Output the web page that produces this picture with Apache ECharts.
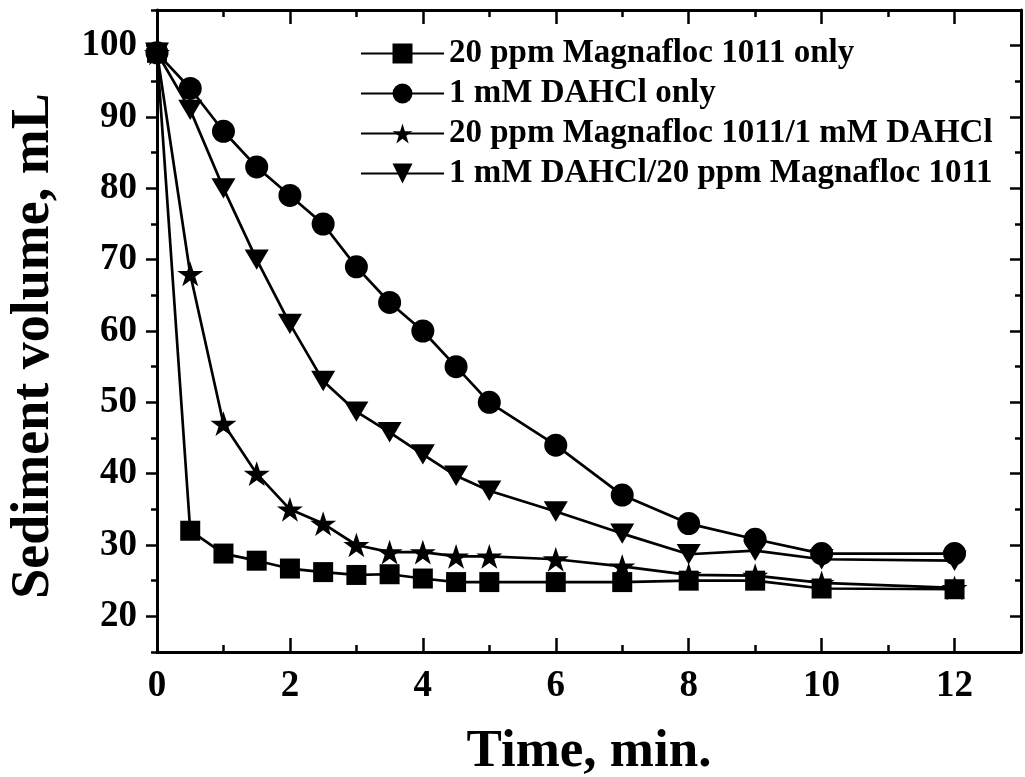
<!DOCTYPE html>
<html>
<head>
<meta charset="utf-8">
<script src="https://cdn.jsdelivr.net/npm/echarts@6/dist/echarts.min.js"></script>
<style>
  html, body { margin: 0; padding: 0; background: #fff; }
  #chart { width: 1025px; height: 777px; }
</style>
</head>
<body>
<div id="chart"></div>
<script>
// Sampling times (min)
const time = [0, 0.5, 1, 1.5, 2, 2.5, 3, 3.5, 4, 4.5, 5, 6, 7, 8, 9, 10, 12];

// Sediment volume (mL) for each treatment
const magnaflocOnly = [99, 32, 28.8, 27.8, 26.7, 26.2, 25.8, 25.9, 25.3, 24.8, 24.8, 24.8, 24.8, 25, 25, 23.9, 23.8];
const dahclOnly = [99, 94, 88, 83, 79, 75, 69, 64, 60, 55, 50, 44, 37, 33, 30.8, 28.8, 28.8];
const magnaflocThenDahcl = [99, 68, 47, 40, 35, 33, 30, 29, 29, 28.4, 28.4, 28, 27, 25.8, 25.7, 24.7, 24];
const dahclThenMagnafloc = [99, 91, 80, 70, 61, 53, 48.7, 45.8, 42.7, 39.7, 37.6, 34.7, 31.6, 28.7, 29.2, 28, 27.8];

const seriesNames = [
  '20 ppm Magnafloc 1011 only',
  '1 mM DAHCl only',
  '20 ppm Magnafloc 1011/1 mM DAHCl',
  '1 mM DAHCl/20 ppm Magnafloc 1011'
];

// Tick positions
const xMajorTicks = [0, 2, 4, 6, 8, 10, 12];
const xMinorTicks = [1, 3, 5, 7, 9, 11];
const yMajorTicks = [20, 30, 40, 50, 60, 70, 80, 90, 100];
const yMinorTicks = [15, 25, 35, 45, 55, 65, 75, 85, 95, 105];

const FONT = 'Liberation Serif';
const STAR = 'path://M50,0L61.23,34.55L97.55,34.55L68.17,55.9L79.39,90.45L50,69.1L20.61,90.45L31.83,55.9L2.45,34.55L38.77,34.55Z';
const DOWN_TRI = 'path://M0,0L20,0L10,17Z';

function pairs(values) {
  return time.map((t, i) => [t, values[i]]);
}

function tickAxis(kind, position, ticks, len, inside, withLine) {
  return {
    type: 'value',
    position: position,
    min: kind === 'x' ? 0 : 15,
    max: kind === 'x' ? 13 : 105,
    axisLine: { show: withLine, onZero: false, lineStyle: { color: '#000', width: 3 } },
    axisTick: { show: true, inside: inside, length: len, customValues: ticks,
                lineStyle: { color: '#000', width: 2.5 } },
    axisLabel: { show: false },
    splitLine: { show: false },
    minorTick: { show: false }
  };
}

const xBottom = tickAxis('x', 'bottom', xMajorTicks, 14, true, true);
xBottom.axisLabel = {
  show: true, customValues: xMajorTicks, margin: 16,
  fontFamily: FONT, fontWeight: 'bold', fontSize: 37, color: '#000'
};
xBottom.name = 'Time, min.';
xBottom.nameLocation = 'middle';
xBottom.nameGap = 74;
xBottom.nameTextStyle = { fontFamily: FONT, fontWeight: 'bold', fontSize: 53, color: '#000' };

const yLeft = tickAxis('y', 'left', yMajorTicks, 11, false, true);
yLeft.axisLabel = {
  show: true, customValues: yMajorTicks, margin: 20,
  fontFamily: FONT, fontWeight: 'bold', fontSize: 37, color: '#000'
};
yLeft.name = 'Sediment volume, mL';
yLeft.nameLocation = 'middle';
yLeft.nameGap = 96;
yLeft.nameTextStyle = { fontFamily: FONT, fontWeight: 'bold', fontSize: 54, color: '#000', padding: [0, 30, 0, 0] };

const lineStyle = { color: '#000', width: 2.7 };

function makeSeries(name, values, symbol, size) {
  return {
    name: name,
    type: 'line',
    xAxisIndex: 0,
    yAxisIndex: 0,
    data: pairs(values),
    symbol: symbol,
    symbolSize: size,
    symbolKeepAspect: true,
    showAllSymbol: true,
    lineStyle: lineStyle,
    itemStyle: { color: '#000', borderWidth: 0 },
    emphasis: { disabled: true }
  };
}

const chart = echarts.init(document.getElementById('chart'), null, { renderer: 'canvas' });
chart.setOption({
  animation: false,
  backgroundColor: '#fff',
  grid: { left: 157, right: 4, top: 10, bottom: 125, containLabel: false, outerBoundsMode: 'none' },
  xAxis: [
    xBottom,
    tickAxis('x', 'bottom', xMinorTicks, 7, true, false),
    tickAxis('x', 'top', xMajorTicks, 14, true, true),
    tickAxis('x', 'top', xMinorTicks, 7, true, false)
  ],
  yAxis: [
    yLeft,
    tickAxis('y', 'left', yMinorTicks, 6, false, false),
    tickAxis('y', 'right', yMajorTicks, 11, true, true),
    tickAxis('y', 'right', yMinorTicks, 6, true, false)
  ],
  legend: {
    orient: 'vertical',
    left: 360,
    top: 37,
    padding: 0,
    itemGap: 7,
    itemWidth: 83,
    itemHeight: 25,
    data: seriesNames,
    textStyle: { fontFamily: FONT, fontWeight: 'bold', fontSize: 33, color: '#000', lineHeight: 31 },
    selectedMode: false
  },
  series: [
    makeSeries(seriesNames[0], magnaflocOnly, 'rect', 20),
    makeSeries(seriesNames[1], dahclOnly, 'circle', 23),
    makeSeries(seriesNames[2], magnaflocThenDahcl, STAR, 26),
    makeSeries(seriesNames[3], dahclThenMagnafloc, DOWN_TRI, 24)
  ]
});
</script>
</body>
</html>
